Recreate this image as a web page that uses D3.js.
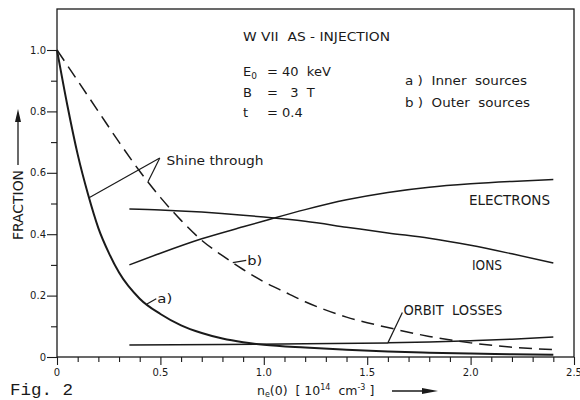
<!DOCTYPE html>
<html>
<head>
<meta charset="utf-8">
<script src="https://cdn.jsdelivr.net/npm/d3@7"></script>
<style>
  body { margin: 0; background: #fff; }
  svg { display: block; font-family: "DejaVu Sans", sans-serif; }
  text { white-space: pre; }
</style>
</head>
<body>
<svg id="chart" width="580" height="400"></svg>
<script>
// values (density in 1e14 cm^-3, fraction)
const shineX     = [0, 0.05, 0.1, 0.15, 0.2, 0.25, 0.3, 0.4, 0.5, 0.6, 0.7, 0.8, 0.9, 1.0, 1.2, 1.4, 1.6, 1.8, 2.0, 2.2, 2.4];
const shineInner = [1.0, 0.82, 0.66, 0.53, 0.42, 0.34, 0.275, 0.19, 0.14, 0.103, 0.078, 0.06, 0.048, 0.04, 0.031, 0.024, 0.018, 0.014, 0.011, 0.009, 0.007];
const shineOuterX = [0, 0.1, 0.2, 0.3, 0.4, 0.5, 0.6, 0.7, 0.8, 0.9, 1.0, 1.1, 1.2, 1.4, 1.6, 1.8, 2.0, 2.2, 2.4];
const shineOuter  = [1.0, 0.9, 0.8, 0.7, 0.605, 0.52, 0.445, 0.38, 0.33, 0.285, 0.245, 0.212, 0.18, 0.13, 0.096, 0.067, 0.046, 0.032, 0.024];
const heatX     = [0.35, 0.5, 0.7, 0.9, 1.0, 1.2, 1.4, 1.6, 1.8, 2.0, 2.2, 2.4];
const electrons = [0.30, 0.338, 0.385, 0.424, 0.443, 0.48, 0.512, 0.536, 0.553, 0.564, 0.572, 0.578];
const ions      = [0.482, 0.479, 0.472, 0.462, 0.456, 0.442, 0.423, 0.404, 0.387, 0.364, 0.336, 0.306];
const orbitX    = [0.35, 0.8, 1.2, 1.6, 1.8, 2.0, 2.2, 2.4];
const orbit     = [0.039, 0.041, 0.043, 0.046, 0.049, 0.053, 0.058, 0.065];

const xTickLabels = ["0", "0.5", "1.0", "1.5", "2.0", "2.5"];
const yTickLabels = ["0", "0.2", "0.4", "0.6", "0.8", "1.0"];

const svg = d3.select("#chart");
const ink = "#1a1a1a";

const x = d3.scaleLinear().domain([0, 2.5]).range([57, 574]);
const y = d3.scaleLinear().domain([0, 1]).range([357, 50]);

// frame
const frameTop = 9;
svg.append("rect")
  .attr("x", x(0)).attr("y", frameTop)
  .attr("width", x(2.5) - x(0)).attr("height", y(0) - frameTop)
  .attr("fill", "none").attr("stroke", ink).attr("stroke-width", 1.3);

// x axis (ticks point down)
const xAxis = d3.axisBottom(x)
  .tickValues(d3.range(0, 2.51, 0.1).map(v => +v.toFixed(1)))
  .tickSize(5)
  .tickFormat(() => "");
const gx = svg.append("g").attr("transform", `translate(0,${y(0)})`).call(xAxis);
gx.select(".domain").remove();
gx.selectAll(".tick line").attr("stroke", ink).attr("stroke-width", 1.1)
  .attr("y2", d => (Math.round(d * 10) % 5 === 0 ? 8 : 5));
xTickLabels.forEach(t => {
  svg.append("text").attr("x", x(+t)).attr("y", 376)
    .attr("text-anchor", "middle").attr("font-size", 10).attr("fill", ink).text(t);
});

// y axis (ticks point left)
const yAxis = d3.axisLeft(y)
  .tickValues(d3.range(0, 1.01, 0.1).map(v => +v.toFixed(1)))
  .tickSize(5)
  .tickFormat(() => "");
const gy = svg.append("g").attr("transform", `translate(${x(0)},0)`).call(yAxis);
gy.select(".domain").remove();
gy.selectAll(".tick line").attr("stroke", ink).attr("stroke-width", 1.1)
  .attr("x2", d => (Math.round(d * 10) % 2 === 0 ? -10 : -6));
yTickLabels.forEach(t => {
  svg.append("text").attr("x", 46).attr("y", y(+t)).attr("dy", "0.35em")
    .attr("text-anchor", "end").attr("font-size", 10).attr("fill", ink).text(t);
});

// curves
const line = (xs) => d3.line().curve(d3.curveMonotoneX)
  .x((d, i) => x(xs[i])).y(d => y(d));

svg.append("path").attr("d", line(shineX)(shineInner))
  .attr("fill", "none").attr("stroke", ink).attr("stroke-width", 2);
svg.append("path").attr("d", line(shineOuterX)(shineOuter))
  .attr("fill", "none").attr("stroke", ink).attr("stroke-width", 1.5)
  .attr("stroke-dasharray", "13,7");
svg.append("path").attr("d", line(heatX)(electrons))
  .attr("fill", "none").attr("stroke", ink).attr("stroke-width", 1.5);
svg.append("path").attr("d", line(heatX)(ions))
  .attr("fill", "none").attr("stroke", ink).attr("stroke-width", 1.5);
svg.append("path").attr("d", line(orbitX)(orbit))
  .attr("fill", "none").attr("stroke", ink).attr("stroke-width", 1.5);

// helper for leader lines
const at = (xs, ys, v) => d3.scaleLinear().domain(xs).range(ys)(v);
const leader = (x1, y1, x2, y2) => svg.append("line")
  .attr("x1", x(x1)).attr("y1", y(y1)).attr("x2", x(x2)).attr("y2", y(y2))
  .attr("stroke", ink).attr("stroke-width", 1.2);

// labels squeezed/stretched to the widths seen in the figure
const label = (px, py, txt, size, len) => {
  const t = svg.append("text")
    .attr("x", px).attr("y", py).attr("font-size", size).attr("fill", ink).text(txt);
  if (len) t.attr("textLength", len).attr("lengthAdjust", "spacingAndGlyphs");
  return t;
};

// Shine through
leader(0.497, 0.648, 0.155, at(shineX, shineInner, 0.155));
leader(0.497, 0.648, 0.44, at(shineOuterX, shineOuter, 0.44));
label(x(0.53), y(0.625), "Shine through", 13, 97);

// a) and b)
leader(0.435, at(shineX, shineInner, 0.435), 0.48, 0.19);
label(x(0.485), y(0.175), "a)", 13, 15);
leader(0.85, at(shineOuterX, shineOuter, 0.85), 0.915, 0.315);
label(x(0.92), y(0.30), "b)", 13, 15);

// orbit losses
leader(1.6, at(orbitX, orbit, 1.6), 1.67, 0.145);
label(x(1.675), y(0.136), "ORBIT  LOSSES", 13.5, 99);

label(469, 205, "ELECTRONS", 13.5, 81);
label(472, 270, "IONS", 13.5, 30);

// header block
label(243, 41, "W VII  AS - INJECTION", 12.5, 147);
const e0 = svg.append("text").attr("x", 243).attr("y", 76).attr("font-size", 13).attr("fill", ink);
e0.append("tspan").text("E");
e0.append("tspan").attr("font-size", 9).attr("dy", 3).text("0");
e0.append("tspan").attr("x", 267).attr("dy", -3).text("= 40  keV");
const bl = svg.append("text").attr("x", 243).attr("y", 97).attr("font-size", 13).attr("fill", ink);
bl.append("tspan").text("B");
bl.append("tspan").attr("x", 267).text("=   3  T");
const tl = svg.append("text").attr("x", 243).attr("y", 117).attr("font-size", 13).attr("fill", ink);
tl.append("tspan").text("t");
tl.append("tspan").attr("x", 267).text("= 0.4");

label(405, 85, "a )  Inner  sources", 13, 122);
label(405, 107, "b )  Outer  sources", 13, 125);

// y label with arrow
svg.append("text")
  .attr("transform", "translate(23,205) rotate(-90)")
  .attr("text-anchor", "middle").attr("font-size", 13.5).attr("fill", ink)
  .attr("textLength", 70).attr("lengthAdjust", "spacingAndGlyphs")
  .text("FRACTION");
svg.append("line").attr("x1", 18).attr("y1", 165).attr("x2", 18).attr("y2", 118)
  .attr("stroke", ink).attr("stroke-width", 1.3);
svg.append("path").attr("d", "M18,109 L15,122 L21,122 Z").attr("fill", ink);

// x label with arrow
const xl = svg.append("text").attr("x", 257).attr("y", 395).attr("font-size", 12.5).attr("fill", ink);
xl.append("tspan").text("n");
xl.append("tspan").attr("font-size", 8).attr("dy", 2).text("e");
xl.append("tspan").attr("dy", -2).text("(0)  [ 10");
xl.append("tspan").attr("font-size", 8).attr("dy", -5).text("14");
xl.append("tspan").attr("dy", 5).text("  cm");
xl.append("tspan").attr("font-size", 8).attr("dy", -5).text("-3");
xl.append("tspan").attr("dy", 5).text(" ]");
svg.append("line").attr("x1", 392).attr("y1", 391).attr("x2", 425).attr("y2", 391)
  .attr("stroke", ink).attr("stroke-width", 1.3);
svg.append("path").attr("d", "M438,391 L422,388 L422,394 Z").attr("fill", ink);

// caption
svg.append("text").attr("x", 10).attr("y", 395)
  .attr("font-family", "Liberation Mono, monospace").attr("font-size", 16)
  .attr("textLength", 63).attr("lengthAdjust", "spacingAndGlyphs")
  .attr("fill", ink).text("Fig. 2");
</script>
</body>
</html>
